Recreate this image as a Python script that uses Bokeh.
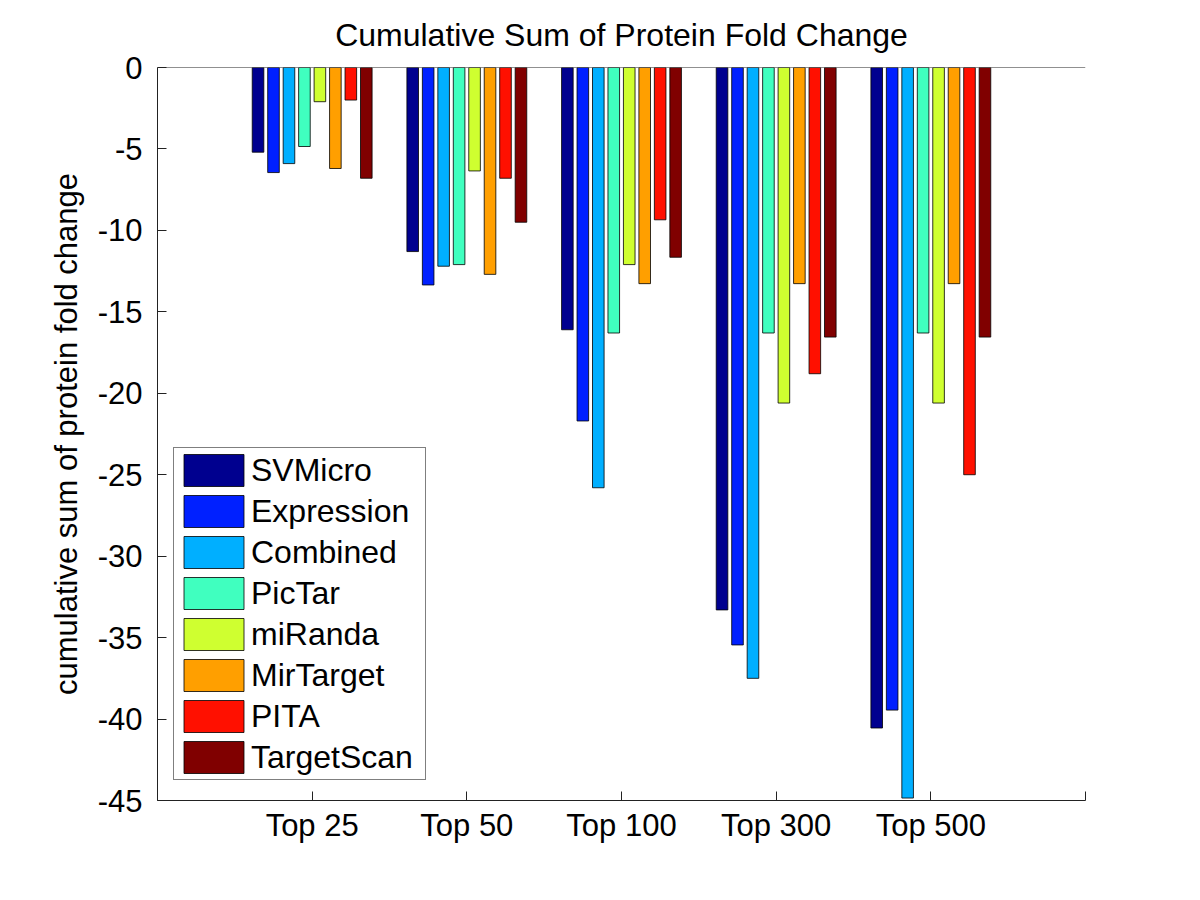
from bokeh.plotting import figure
from bokeh.models import ColumnDataSource, Range1d, FixedTicker, Span, Legend, LegendItem
from bokeh.transform import dodge
from bokeh.embed import file_html
from bokeh.resources import INLINE

# ---- data ----
categories = ["Top 25", "Top 50", "Top 100", "Top 300", "Top 500"]
series = ["SVMicro", "Expression", "Combined", "PicTar", "miRanda", "MirTarget", "PITA", "TargetScan"]
svmicro    = [-5.2, -11.3, -16.1, -33.3, -40.55]
expression = [-6.45, -13.35, -21.7, -35.45, -39.45]
combined   = [-5.9, -12.2, -25.8, -37.5, -44.85]
pictar     = [-4.85, -12.1, -16.3, -16.3, -16.3]
miranda    = [-2.1, -6.35, -12.1, -20.6, -20.6]
mirtarget  = [-6.2, -12.7, -13.27, -13.27, -13.27]
pita       = [-2.0, -6.8, -9.35, -18.8, -25.0]
targetscan = [-6.8, -9.5, -11.65, -16.55, -16.55]
y_ticks = [0, -5, -10, -15, -20, -25, -30, -35, -40, -45]

colors = ["#00008F", "#0020FF", "#00AFFF", "#40FFBF", "#CFFF30", "#FF9F00", "#FF1000", "#800000"]
values = [svmicro, expression, combined, pictar, miranda, mirtarget, pita, targetscan]

FONT = "Liberation Sans"

src = ColumnDataSource(dict(x=list(range(1, len(categories) + 1)),
                            **{name: vals for name, vals in zip(series, values)}))

p = figure(width=1184, height=884, output_backend="svg", toolbar_location=None,
           x_range=Range1d(0, 6), y_range=Range1d(-45, 0),
           min_border_left=157, min_border_right=99, min_border_top=67, min_border_bottom=84,
           title="Cumulative Sum of Protein Fold Change")
p.outline_line_color = None
p.grid.visible = False
p.background_fill_color = "white"
p.border_fill_color = "white"

p.title.text_font = FONT
p.title.text_font_size = "32px"
p.title.text_font_style = "normal"
p.title.align = "center"
p.title.text_color = "black"
p.title.standoff = 29

items = []
n = len(series)
for j, (name, col) in enumerate(zip(series, colors)):
    off = (j - (n - 1) / 2) * 0.1
    r = p.vbar(x=dodge("x", off, range=p.x_range), top=0, bottom=name, width=0.075,
               source=src, fill_color=col, line_color="black", line_width=0.8)
    items.append(LegendItem(label=name, renderers=[r]))

p.add_layout(Span(location=0, dimension="width", line_color="#222222", line_width=1))

# axes
p.xaxis.ticker = FixedTicker(ticks=[0, 1, 2, 3, 4, 5, 6])
p.xaxis.major_label_overrides = {0: "", 6: "", **{i + 1: c for i, c in enumerate(categories)}}
p.yaxis.ticker = FixedTicker(ticks=y_ticks)
p.yaxis.major_label_overrides = {t: str(t) for t in y_ticks}
p.yaxis.axis_label = "cumulative sum of protein fold change"
for ax in (p.xaxis[0], p.yaxis[0]):
    ax.major_tick_in = 9
    ax.major_tick_out = 0
    ax.minor_tick_line_color = None
    ax.axis_line_color = "#222222"
    ax.major_tick_line_color = "#222222"
    ax.major_label_text_font = FONT
    ax.major_label_text_font_size = "31px"
    ax.major_label_text_color = "black"
    ax.axis_label_text_font = FONT
    ax.axis_label_text_font_size = "31px"
    ax.axis_label_text_font_style = "normal"
    ax.axis_label_text_color = "black"
p.xaxis.major_label_standoff = 7
p.yaxis.major_label_standoff = 15
p.yaxis.axis_label_standoff = 11

legend = Legend(items=items, location=(16, 20))
legend.label_text_font = FONT
legend.label_text_font_size = "32px"
legend.label_text_color = "black"
legend.glyph_width = 75
legend.glyph_height = 40
legend.label_height = 32
legend.label_standoff = 0
legend.label_width = 172
legend.padding = 2
legend.spacing = 1
legend.border_line_color = "black"
legend.border_line_width = 1
legend.background_fill_color = "white"
legend.background_fill_alpha = 1
legend.margin = 0
p.add_layout(legend)

open("out.html", "w").write(file_html(p, INLINE))
